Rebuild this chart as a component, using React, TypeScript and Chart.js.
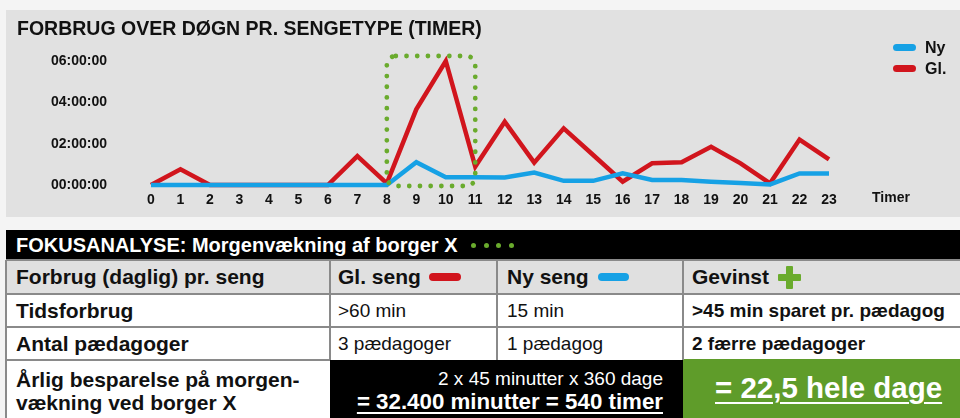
import React, { useEffect, useRef } from 'react';
import { Chart, registerables } from 'chart.js';

Chart.register(...registerables);

const FONT = '"Liberation Sans", Arial, Helvetica, sans-serif';

// ---------- chart data ----------
const chartTitle = 'FORBRUG OVER DØGN PR. SENGETYPE (TIMER)';
const hourLabels = ['0', '1', '2', '3', '4', '5', '6', '7', '8', '9', '10', '11', '12', '13', '14', '15', '16', '17', '18', '19', '20', '21', '22', '23'];
const seriesNames = ['Ny', 'Gl.'];
const nyValues = [0, 0, 0, 0, 0, 0, 0, 0, 0, 1.1, 0.37, 0.37, 0.36, 0.6, 0.2, 0.2, 0.57, 0.24, 0.24, 0.16, 0.1, 0.03, 0.56, 0.56];
const glValues = [0, 0.76, 0, 0, 0, 0, 0, 1.4, 0.08, 3.66, 6.0, 0.89, 3.06, 1.08, 2.74, 1.45, 0.16, 1.05, 1.1, 1.85, 1.05, 0.08, 2.2, 1.24];
const yTickValues = [0, 2, 4, 6];
const xAxisLabel = 'Timer';
const highlightRange = [8, 11];

// ---------- table data ----------
const tableTitle = 'FOKUSANALYSE: Morgenvækning af borger X';
const headerCells = ['Forbrug (daglig) pr. seng', 'Gl. seng', 'Ny seng', 'Gevinst'];
const row1 = ['Tidsforbrug', '>60 min', '15 min', '>45 min sparet pr. pædagog'];
const row2 = ['Antal pædagoger', '3 pædagoger', '1 pædagog', '2 færre pædagoger'];
const savingLabel = ['Årlig besparelse på morgen-', 'vækning ved borger X'];
const savingCalc = ['2 x 45 minutter x 360 dage', '= 32.400 minutter = 540 timer'];
const savingResult = '= 22,5 hele dage';

const BLUE = '#16a1e5';
const RED = '#d1151d';
const GREEN = '#6aab2d';
const GREEN_CELL = '#5f9c2a';
const INK = '#111111';
const LINE = '#8a8a8a';

const fmtHour = (v: number) => String(v).padStart(2, '0') + ':00:00';

const overlayPlugin = {
  id: 'overlay',
  afterDatasetsDraw(chart: any) {
    const { ctx } = chart;
    const xs = chart.scales.x;
    const ys = chart.scales.y;
    const l = xs.getPixelForValue(highlightRange[0]);
    const r = xs.getPixelForValue(highlightRange[1]);
    const t = ys.getPixelForValue(yTickValues[yTickValues.length - 1]) - 5;
    const b = ys.getPixelForValue(0) + 1;
    ctx.save();
    ctx.strokeStyle = GREEN;
    ctx.lineWidth = 4.8;
    ctx.lineCap = 'round';
    ctx.setLineDash([0.001, 10.7]);
    ctx.beginPath();
    ctx.roundRect(l, t, r - l, b - t, 9);
    ctx.stroke();
    ctx.restore();
  },
  afterDraw(chart: any) {
    const { ctx } = chart;
    ctx.save();
    ctx.fillStyle = INK;
    ctx.textBaseline = 'middle';
    ctx.textAlign = 'left';
    ctx.font = `bold 19.5px ${FONT}`;
    ctx.fillText(chartTitle, 11, 19.5);

    // legend
    const colors = [BLUE, RED];
    const ys = [37.5, 58.5];
    ctx.font = `bold 16px ${FONT}`;
    seriesNames.forEach((name, i) => {
      ctx.fillStyle = colors[i];
      ctx.beginPath();
      ctx.roundRect(887, ys[i] - 3.5, 23, 7, 3.5);
      ctx.fill();
      ctx.fillStyle = INK;
      ctx.fillText(name, 919, ys[i] + 1);
    });

    // x axis label
    ctx.font = `bold 14px ${FONT}`;
    ctx.fillText(xAxisLabel, 866, 188);
    ctx.restore();
  },
};

function LineChart() {
  const ref = useRef<HTMLCanvasElement | null>(null);
  useEffect(() => {
    if (!ref.current) return;
    const tickFont = { family: FONT, size: 14, weight: 'bold' as const };
    const chart = new Chart(ref.current, {
      type: 'line',
      data: {
        labels: hourLabels,
        datasets: [
          { label: seriesNames[0], data: nyValues, borderColor: BLUE, backgroundColor: BLUE, borderWidth: 4.5, pointRadius: 0, tension: 0, clip: false as any },
          { label: seriesNames[1], data: glValues, borderColor: RED, backgroundColor: RED, borderWidth: 4.5, pointRadius: 0, tension: 0, clip: false as any },
        ],
      },
      options: {
        animation: false,
        responsive: false,
        devicePixelRatio: 1,
        events: [],
        layout: { padding: { left: 0, top: 51, right: 131, bottom: 12 } },
        scales: {
          x: {
            type: 'category',
            offset: false,
            grid: { display: false, drawTicks: false },
            border: { display: false },
            ticks: { color: INK, font: tickFont, padding: 7, maxRotation: 0, autoSkip: false },
            afterFit: (s: any) => { s.height = 20; s.paddingLeft = 0; s.paddingRight = 0; },
          },
          y: {
            min: 0,
            max: 6,
            grid: { display: false, drawTicks: false },
            border: { display: false },
            ticks: { color: INK, font: tickFont, padding: 44, callback: (v: any) => fmtHour(Number(v)) },
            afterBuildTicks: (s: any) => { s.ticks = yTickValues.map((v) => ({ value: v })); },
            afterFit: (s: any) => { s.width = 145; s.paddingTop = 0; s.paddingBottom = 0; },
          },
        },
        plugins: { legend: { display: false }, tooltip: { enabled: false }, title: { display: false } },
      },
      plugins: [overlayPlugin],
    });
    return () => chart.destroy();
  }, []);
  return <canvas ref={ref} width={954} height={207} style={{ display: 'block', width: 954, height: 207 }} />;
}

const colX = [6, 330, 497, 683, 960];
const rowY = [230, 260, 294, 327, 360, 430];

function Cell(props: { c0: number; c1: number; r: number; bg: string; pad?: number; style?: any; children?: any }) {
  const { c0, c1, r, bg, pad = 10, style, children } = props;
  return (
    <div
      style={{
        position: 'absolute',
        left: colX[c0],
        top: rowY[r],
        width: colX[c1] - colX[c0],
        height: rowY[r + 1] - rowY[r],
        background: bg,
        boxSizing: 'border-box',
        paddingLeft: pad,
        display: 'flex',
        alignItems: 'center',
        whiteSpace: 'nowrap',
        color: INK,
        ...style,
      }}
    >
      {children}
    </div>
  );
}

const bold21 = { fontWeight: 'bold', fontSize: 21 };
const reg19 = { fontWeight: 'normal', fontSize: 19 };
const bold19 = { fontWeight: 'bold', fontSize: 19 };

function Pill({ color, w, ml }: { color: string; w: number; ml: number }) {
  return <span style={{ display: 'inline-block', width: w, height: 8, borderRadius: 4, background: color, marginLeft: ml }} />;
}

function Plus() {
  return (
    <span style={{ display: 'inline-block', position: 'relative', width: 23, height: 23, marginLeft: 9 }}>
      <span style={{ position: 'absolute', left: 8, top: 0, width: 7, height: 23, background: GREEN, borderRadius: 1 }} />
      <span style={{ position: 'absolute', left: 0, top: 8, width: 23, height: 7, background: GREEN, borderRadius: 1 }} />
    </span>
  );
}

function Table() {
  const vLines = [6, 330, 497, 683];
  const hLines = [260, 294, 327, 360];
  return (
    <>
      <Cell c0={0} c1={4} r={0} bg="#000" style={{ color: '#fff', fontWeight: 'bold', fontSize: 20, paddingTop: 1 }}>
        {tableTitle}
        <span style={{ marginLeft: 13.5, display: 'inline-flex', alignItems: 'center' }}>
          {[0, 1, 2, 3].map((i) => (
            <span key={i} style={{ display: 'inline-block', width: 5, height: 5, borderRadius: 3, background: GREEN, marginRight: 7.7 }} />
          ))}
        </span>
      </Cell>
      <Cell c0={0} c1={1} r={1} bg="#e0e0e0" style={bold21}>{headerCells[0]}</Cell>
      <Cell c0={1} c1={2} r={1} bg="#e0e0e0" pad={8} style={bold21}>{headerCells[1]}<Pill color={RED} w={32} ml={8} /></Cell>
      <Cell c0={2} c1={3} r={1} bg="#e0e0e0" style={bold21}>{headerCells[2]}<Pill color={BLUE} w={31} ml={9} /></Cell>
      <Cell c0={3} c1={4} r={1} bg="#e0e0e0" pad={9} style={bold21}>{headerCells[3]}<Plus /></Cell>

      {[row1, row2].map((row, ri) => (
        <React.Fragment key={ri}>
          <Cell c0={0} c1={1} r={2 + ri} bg="#fff" style={bold21}>{row[0]}</Cell>
          <Cell c0={1} c1={2} r={2 + ri} bg="#fff" pad={8} style={reg19}>{row[1]}</Cell>
          <Cell c0={2} c1={3} r={2 + ri} bg="#fff" style={reg19}>{row[2]}</Cell>
          <Cell c0={3} c1={4} r={2 + ri} bg="#fff" pad={9} style={bold19}>{row[3]}</Cell>
        </React.Fragment>
      ))}

      <div style={{ position: 'absolute', left: colX[0], top: rowY[4], width: colX[1] - colX[0], height: 58, background: '#fff', boxSizing: 'border-box', paddingLeft: 10, paddingTop: 8, fontWeight: 'bold', fontSize: 21, lineHeight: '23px', color: INK, whiteSpace: 'nowrap' }}>
        <div>{savingLabel[0]}</div>
        <div>{savingLabel[1]}</div>
      </div>
      <div style={{ position: 'absolute', left: colX[1], top: rowY[4], width: colX[3] - colX[1], height: 70, background: '#000', boxSizing: 'border-box', paddingRight: 20, paddingTop: 7, textAlign: 'right', color: '#fff', whiteSpace: 'nowrap' }}>
        <div style={{ fontSize: 19, lineHeight: '23px' }}>{savingCalc[0]}</div>
        <div style={{ fontSize: 22.3, fontWeight: 'bold', lineHeight: '23px', textDecoration: 'underline', textDecorationThickness: 2, textUnderlineOffset: 3 }}>{savingCalc[1]}</div>
      </div>
      <div style={{ position: 'absolute', left: colX[3], top: rowY[4] - 1, width: colX[4] - colX[3], height: 71, background: GREEN_CELL, boxSizing: 'border-box', paddingLeft: 32, paddingTop: 11, color: '#fff', whiteSpace: 'nowrap' }}>
        <span style={{ fontSize: 29.5, fontWeight: 'bold', lineHeight: '36px', textDecoration: 'underline', textDecorationThickness: 2, textUnderlineOffset: 4 }}>{savingResult}</span>
      </div>

      {vLines.map((x, i) => (
        <div key={'v' + i} style={{ position: 'absolute', left: x - 1, top: 260, width: 2, height: i === 0 ? 170 : 100, background: LINE }} />
      ))}
      {hLines.map((y, i) => (
        <div key={'h' + i} style={{ position: 'absolute', left: 6, top: y - 1, width: i === 3 ? 324 : 954, height: 2, background: LINE }} />
      ))}
    </>
  );
}

export default function App() {
  return (
    <div style={{ position: 'absolute', left: 0, top: 0, width: 960, height: 418, overflow: 'hidden', background: '#f4f4f4', fontFamily: FONT }}>
      <div style={{ position: 'absolute', left: 6, top: 10, width: 954, height: 207, background: '#e1e1e1' }}>
        <LineChart />
      </div>
      <Table />
    </div>
  );
}
